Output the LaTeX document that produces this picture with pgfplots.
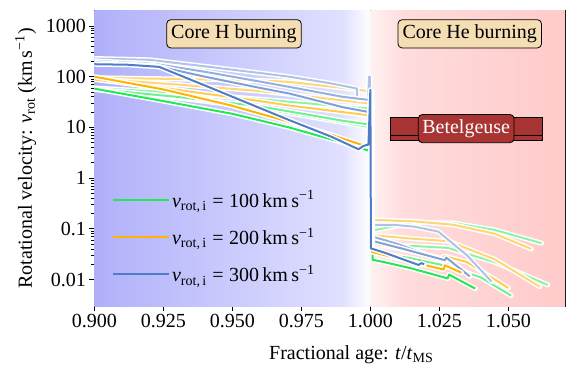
\documentclass[border=0pt]{standalone}
\usepackage{pgfplots}
\usepackage{pgfplotstable}
\pgfplotsset{compat=1.18}
\usepackage{fontspec}
\setmainfont{Liberation Serif}
\definecolor{gmain}{HTML}{22E855}
\definecolor{omain}{HTML}{FFB400}
\definecolor{bmain}{HTML}{4E7CC6}
\definecolor{bgA}{HTML}{B0B0FA}
\definecolor{bgB}{HTML}{E0E0FF}
\definecolor{pkA}{HTML}{FFF2F2}
\definecolor{pkB}{HTML}{FFDCDC}
\definecolor{pkC}{HTML}{FFCACA}
\definecolor{wheat}{HTML}{F5DEB3}
\definecolor{betel}{HTML}{A83434}

% pale tracks
\pgfplotstableread{
x y
0.9 60
0.93 48
0.96 36
0.9705 32
0.99 26
0.999 23.6
1.0005 23.6
1.0005 0.092
1.008 0.11
1.016 0.135
1.03 0.13
1.045 0.095
1.062 0.052
}\gA
\pgfplotstableread{
x y
0.9 56
0.93 38
0.96 24
0.9705 19
0.99 12.5
0.999 10.3
1.0005 10.3
1.0005 0.048
1.015 0.046
1.028 0.042
1.045 0.022
1.0643 0.0078
}\gB
\pgfplotstableread{
x y
0.9 57
0.93 40
0.96 26
0.99 13.5
0.999 11.5
1.0005 11.5
1.0005 0.035
1.015 0.026
1.0285 0.018
1.04 0.011
1.051 0.0048
}\gC
\pgfplotstableread{
x y
0.9 95
0.93 90
0.96 84
0.9705 79
0.99 60
0.999 52
1.0005 52
1.0005 0.15
1.016 0.14
1.03 0.12
1.045 0.08
1.0583 0.040
}\oA
\pgfplotstableread{
x y
0.9 91
0.93 70
0.96 52
0.9705 45
0.99 34
0.999 30
1.0005 30
1.0005 0.075
1.015 0.064
1.0283 0.057
1.045 0.025
1.0614 0.0072
}\oB
\pgfplotstableread{
x y
0.9 88
0.93 55
0.96 33
0.9705 27
0.99 20
0.999 17.5
1.0005 17.5
1.0005 0.052
1.015 0.036
1.026 0.026
1.0268 0.029
1.035 0.022
1.050 0.0068
}\oC
\pgfplotstableread{
x y
0.9 228
0.92 215
0.94 160
0.96 118
0.9705 100
0.985 75
0.9951 58.5
0.9953 35.6
0.9992 35.6
0.9995 100
0.9998 100
1.0005 0.12
1.008 0.12
1.016 0.11
1.0246 0.088
1.035 0.03
1.0439 0.0091
}\bA
\pgfplotstableread{
x y
0.9 205
0.922 178
0.94 125
0.96 80
0.9705 63
0.99 40
0.999 35
1.0005 35
1.0005 0.071
1.01 0.05
1.027 0.0227
1.0275 0.026
1.036 0.0123
}\bB
\pgfplotstableread{
x y
0.9 190
0.922 165
0.94 100
0.96 60
0.9705 46.7
0.99 25
0.999 20.3
1.0005 20.3
1.0005 0.058
1.012 0.04
1.027 0.024
1.0275 0.027
1.036 0.0115
}\bC
% main tracks
\pgfplotstableread{
x y
0.9 58
0.925 33
0.95 18.5
0.9705 10
0.99 5
0.9985 3.6
1.0008 3.3
1.0008 0.0245
1.005 0.022
1.015 0.0165
1.028 0.0105
1.0285 0.0125
1.038 0.0066
}\gM
\pgfplotstableread{
x y
0.9 100
0.925 56
0.949 27.5
0.9705 12.9
0.986 7.1
0.997 4.5
0.9993 4.8
1.0005 4.8
1.0005 0.035
1.01 0.026
1.0265 0.0157
1.027 0.019
1.033 0.0136
}\oM
\pgfplotstableread{
x y
0.9 176
0.912 172
0.9235 156
0.9427 58.6
0.96 24
0.9705 14
0.986 6.5
0.9957 3.7
0.9975 4.3
0.9993 4.6
1.0 55
1.0002 0.041
1.005 0.034
1.0174 0.0194
1.0185 0.021
1.0195 0.020
}\bM

\newcommand{\track}[2]{%
  \addplot[forget plot, white, line width=5pt, line join=round, line cap=round] table[x=x,y=y] {#1};
  \addplot[forget plot, #2, line width=2pt, line join=round] table[x=x,y=y] {#1};
}
\begin{document}
\begin{tikzpicture}
\begin{axis}[name=ax,
  width=470.7pt, height=295.3pt, scale only axis,
  font=\fontsize{20}{24}\selectfont,
  xmin=0.9, xmax=1.0705, ymode=log, ymin=0.003, ymax=2000,
  xtick={0.9,0.925,0.95,0.975,1.0,1.025,1.05},
  xticklabels={0.900,0.925,0.950,0.975,1.000,1.025,1.050},
  ytick={0.01,0.1,1,10,100,1000},
  yticklabels={0.01,0.1,1,10,100,1000},
  tick pos=left, tick align=outside,
  major tick length=5pt, minor tick length=3pt,
  every tick/.style={black, line width=0.8pt},
  axis line style={line width=1pt},
  xlabel={Fractional age: \textit{t}/\textit{t}\textsubscript{MS}},
  ylabel={Rotational velocity: \textit{v}\textsubscript{rot} (km\,s\textsuperscript{−1})},
  xlabel style={at={(axis description cs:0.546,-0.165)}, anchor=center},
  ylabel style={at={(axis description cs:-0.146,0.5)}, anchor=center},
  legend image code/.code={\draw[#1] (0pt,0pt) -- (44pt,0pt); \path (0pt,0pt) -- (56pt,0pt);},
  legend style={at={(axis description cs:0.031,0.405)}, anchor=north west,
    draw=none, fill=none, row sep=15pt, font=\fontsize{20}{24}\selectfont},
  legend cell align=left,
]
\fill[left color=bgA, right color=bgB] (axis cs:0.9,0.003) rectangle (axis cs:0.99,2000);
\fill[left color=bgB, right color=white] (axis cs:0.9899,0.003) rectangle (axis cs:1.0,2000);
\fill[left color=pkA, right color=pkB] (axis cs:1.0,0.003) rectangle (axis cs:1.012,2000);
\fill[left color=pkB, right color=pkC] (axis cs:1.0119,0.003) rectangle (axis cs:1.0705,2000);

\track{\gA}{gmain!52!white}
\track{\gB}{gmain!52!white}
\track{\gC}{gmain!65!white}
\track{\oA}{omain!55!white}
\track{\oB}{omain!55!white}
\track{\oC}{omain!68!white}
\track{\bA}{bmain!45!white}
\track{\bB}{bmain!60!white}
\track{\bC}{bmain!72!white}
\track{\gM}{gmain}
\track{\oM}{omain}
\track{\bM}{bmain}

\addlegendimage{gmain, line width=2pt}
\addlegendentry{\textit{v}\textsubscript{rot,\,i}\;=\;100\,km\,s\textsuperscript{−1}}
\addlegendimage{omain, line width=2pt}
\addlegendentry{\textit{v}\textsubscript{rot,\,i}\;=\;200\,km\,s\textsuperscript{−1}}
\addlegendimage{bmain, line width=2pt}
\addlegendentry{\textit{v}\textsubscript{rot,\,i}\;=\;300\,km\,s\textsuperscript{−1}}

% Betelgeuse band
\fill[betel, draw=black, line width=0.8pt] (axis cs:1.0073,5.6) rectangle (axis cs:1.0622,16);
\draw[black, line width=0.8pt] (axis cs:1.0073,6.8) -- (axis cs:1.0622,6.8);
\node[fill=betel, draw=black, line width=0.8pt, rounded corners=4pt, inner xsep=4pt, inner ysep=5pt, text=white] at (axis cs:1.0347,9.46) {Betelgeuse};

\node[fill=wheat, draw=black, line width=0.8pt, rounded corners=4pt, inner xsep=4.5pt, inner ysep=5pt] at (axis cs:0.9506,700) {Core H burning};
\node[fill=wheat, draw=black, line width=0.8pt, rounded corners=4pt, inner xsep=4.5pt, inner ysep=5pt] at (axis cs:1.036,700) {Core He burning};
\end{axis}
\pgfresetboundingbox
\useasboundingbox ([shift={(-94.3pt,-69pt)}]ax.south west) rectangle ([shift={(10pt,10.7pt)}]ax.north east);
\end{tikzpicture}
\end{document}
